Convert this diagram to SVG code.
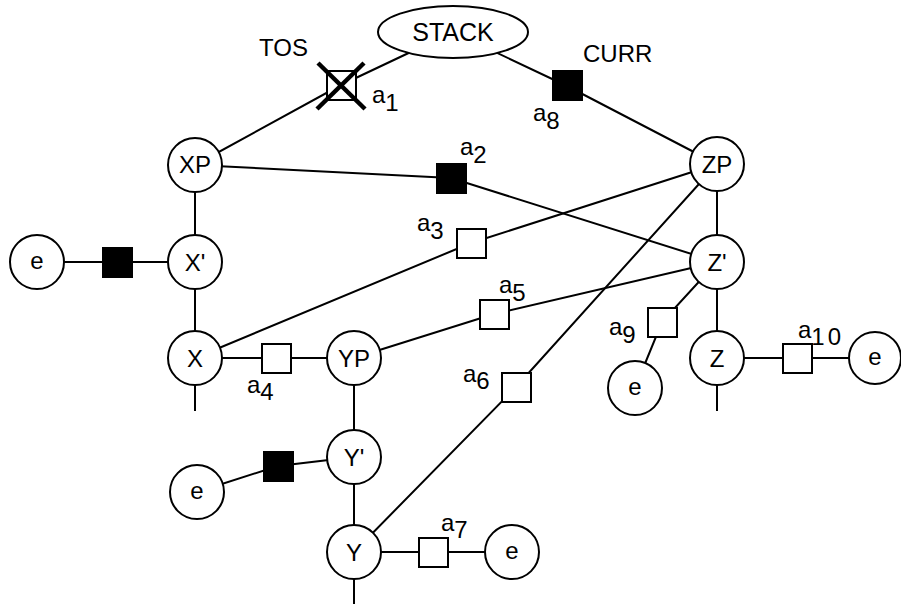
<svg xmlns="http://www.w3.org/2000/svg" width="901" height="604" viewBox="0 0 901 604">
<style>
text{font-family:"Liberation Sans",Arial,sans-serif;font-size:24px;fill:#000}
.c{text-anchor:middle}
.n{fill:#fff;stroke:#000;stroke-width:2}
.bw{fill:#fff;stroke:#000;stroke-width:2}
.bb{fill:#000;stroke:#000;stroke-width:2}
#edges line,#edges polyline{stroke:#000;stroke-width:2;fill:none}
</style>
<rect width="901" height="604" fill="#fff"/>
<g id="edges">
<polyline points="195,165 341,85 453,32"/>
<polyline points="453,32 567,86 717,164"/>
<polyline points="195,165 451,178 717,262"/>
<polyline points="195,358 471,243 717,164"/>
<polyline points="354,358 494,314 717,262"/>
<polyline points="717,164 516,387 354,552"/>
<polyline points="717,262 662,322 635,388"/>
<line x1="195" y1="165" x2="195" y2="262"/>
<line x1="195" y1="262" x2="195" y2="358"/>
<line x1="195" y1="358" x2="195" y2="411"/>
<line x1="37" y1="262" x2="195" y2="262"/>
<line x1="195" y1="358" x2="354" y2="358"/>
<line x1="354" y1="358" x2="354" y2="457"/>
<line x1="354" y1="457" x2="354" y2="552"/>
<line x1="354" y1="552" x2="354" y2="604"/>
<polyline points="197,492 278,466 354,457"/>
<line x1="354" y1="552" x2="512" y2="552"/>
<line x1="717" y1="164" x2="717" y2="262"/>
<line x1="717" y1="262" x2="717" y2="358"/>
<line x1="717" y1="358" x2="717" y2="411"/>
<line x1="717" y1="358" x2="876" y2="358"/>
</g>
<g id="stack"><ellipse cx="453" cy="32" rx="75" ry="26" class="n"/><text x="453" y="41" class="c" style="font-size:25px">STACK</text></g>
<g id="tos"><text x="308" y="56" text-anchor="end">TOS</text></g>
<g id="curr"><text x="583" y="62">CURR</text></g>
<g id="a1"><rect x="327" y="71" width="29" height="29" class="bw"/><line x1="318" y1="63" x2="365" y2="109" stroke="#000" stroke-width="4.5"/><line x1="364" y1="63" x2="317" y2="109" stroke="#000" stroke-width="4.5"/><text x="372" y="103">a<tspan dy="8">1</tspan></text></g>
<g id="a8"><rect x="553" y="71" width="29" height="29" class="bb"/><text x="533" y="121">a<tspan dy="8">8</tspan></text></g>
<g id="a2"><rect x="437" y="164" width="29" height="29" class="bb"/><text x="460" y="155">a<tspan dy="8">2</tspan></text></g>
<g id="a3"><rect x="457" y="229" width="29" height="29" class="bw"/><text x="417" y="231">a<tspan dy="8">3</tspan></text></g>
<g id="a5"><rect x="480" y="300" width="29" height="29" class="bw"/><text x="499" y="293">a<tspan dy="8">5</tspan></text></g>
<g id="a6"><rect x="502" y="373" width="29" height="29" class="bw"/><text x="463" y="382">a<tspan dy="7">6</tspan></text></g>
<g id="a9"><rect x="648" y="308" width="29" height="29" class="bw"/><text x="609" y="335">a<tspan dy="8">9</tspan></text></g>
<g id="a4"><rect x="262" y="344" width="29" height="29" class="bw"/><text x="247" y="393">a<tspan dy="7">4</tspan></text></g>
<g id="a7"><rect x="419" y="538" width="29" height="29" class="bw"/><text x="441" y="531">a<tspan dy="7">7</tspan></text></g>
<g id="a10"><rect x="783" y="344" width="29" height="29" class="bw"/><text x="798" y="338">a<tspan dy="7" letter-spacing="3">10</tspan></text></g>
<g id="bx"><rect x="103" y="248" width="29" height="29" class="bb"/></g>
<g id="by"><rect x="264" y="452" width="29" height="29" class="bb"/></g>
<g id="XP"><circle cx="195" cy="165" r="27" class="n"/><text x="195" y="173" class="c">XP</text></g>
<g id="Xp"><circle cx="195" cy="262" r="27" class="n"/><text x="195" y="271" class="c">X'</text></g>
<g id="X"><circle cx="195" cy="358" r="27" class="n"/><text x="195" y="367" class="c">X</text></g>
<g id="e1"><circle cx="37" cy="262" r="27" class="n"/><text x="37" y="269" class="c">e</text></g>
<g id="YP"><circle cx="354" cy="358" r="27" class="n"/><text x="354" y="367" class="c">YP</text></g>
<g id="Yp"><circle cx="354" cy="457" r="27" class="n"/><text x="354" y="466" class="c">Y'</text></g>
<g id="Y"><circle cx="354" cy="552" r="27" class="n"/><text x="354" y="561" class="c">Y</text></g>
<g id="e2"><circle cx="197" cy="492" r="27" class="n"/><text x="197" y="499" class="c">e</text></g>
<g id="e3"><circle cx="512" cy="552" r="27" class="n"/><text x="512" y="559" class="c">e</text></g>
<g id="ZP"><circle cx="717" cy="164" r="27" class="n"/><text x="717" y="173" class="c">ZP</text></g>
<g id="Zp"><circle cx="717" cy="262" r="27" class="n"/><text x="717" y="271" class="c">Z'</text></g>
<g id="Z"><circle cx="717" cy="358" r="27" class="n"/><text x="717" y="367" class="c">Z</text></g>
<g id="e4"><circle cx="635" cy="388" r="27" class="n"/><text x="635" y="395" class="c">e</text></g>
<g id="e5"><circle cx="875" cy="358" r="26" class="n"/><text x="875" y="365" class="c">e</text></g>
</svg>
